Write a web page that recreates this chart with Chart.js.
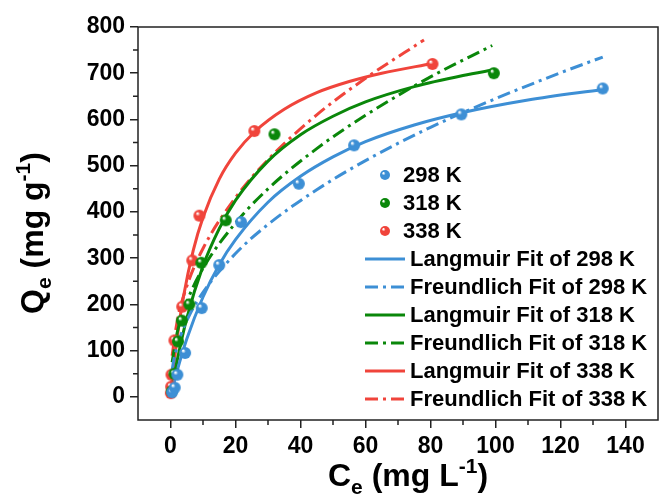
<!DOCTYPE html>
<html>
<head>
<meta charset="utf-8">
<script src="https://cdn.jsdelivr.net/npm/chart.js@4.4.0/dist/chart.umd.min.js"></script>
<style>
  body { margin: 0; background: #fff; }
  #wrap { width: 665px; height: 501px; }
</style>
</head>
<body>
<div id="wrap"><canvas id="iso"></canvas></div>
<script>
// measured points (Ce, Qe)
const c298 = [0.5, 1.3, 2.1, 4.5, 9.6, 15, 21.7, 39.5, 56.5, 89.5, 133];
const q298 = [10, 20, 48, 95, 192, 285, 378, 461, 544, 611, 667];
const c318 = [0.4, 1.2, 2.3, 3.5, 5.8, 9.5, 17, 32, 99.5];
const q318 = [12, 50, 120, 165, 200, 290, 382, 568, 700];
const c338 = [0.1, 0.2, 0.3, 1.2, 3.6, 6.7, 8.9, 25.8, 80.6];
const q338 = [8, 22, 48, 122, 195, 295, 392, 575, 720];

// fit curves
const langC298 = [0.5, 2, 5, 10, 15, 20, 30, 40, 50, 60, 75, 90, 110, 133];
const langQ298 = [14, 55, 125, 216, 286, 340, 421, 477, 519, 552, 588, 615, 642, 665];
const freuC298 = [0.5, 1, 3, 6, 10, 20, 30, 45, 60, 80, 100, 120, 133];
const freuQ298 = [58, 79, 130, 179, 226, 310, 373, 448, 511, 583, 645, 701, 735];
const langC318 = [0.5, 2, 5, 10, 15, 20, 30, 40, 50, 60, 75, 90, 100];
const langQ318 = [21, 77, 170, 283, 364, 425, 510, 567, 607, 638, 671, 695, 708];
const freuC318 = [0.5, 2, 5, 10, 20, 30, 45, 60, 80, 99];
const freuQ318 = [75, 137, 205, 278, 376, 450, 537, 609, 692, 760];
const langC338 = [0.1, 0.5, 2, 4, 7, 10, 15, 20, 26, 35, 45, 55, 65, 80.6];
const langQ338 = [7, 35, 125, 217, 317, 388, 471, 527, 574, 622, 658, 682, 700, 721];
const freuC338 = [0.5, 2, 5, 10, 20, 30, 45, 60, 78];
const freuQ338 = [89, 161, 239, 321, 431, 513, 610, 689, 772];

const xTicks = [0, 20, 40, 60, 80, 100, 120, 140];
const yTicks = [0, 100, 200, 300, 400, 500, 600, 700, 800];

const BLUE = "#3d8fd5";
const GREEN = "#0a870a";
const RED = "#f0443b";
const FONT = "'Liberation Sans', Arial, sans-serif";

function pts(xs, ys) {
  return xs.map((x, i) => ({ x: x, y: ys[i] }));
}

// shaded ball marker
function ball(color, r) {
  const c = document.createElement("canvas");
  c.width = c.height = r * 2 + 2;
  const g = c.getContext("2d");
  const m = r + 1;
  const grad = g.createRadialGradient(m - r * 0.35, m - r * 0.4, r * 0.1, m, m, r);
  grad.addColorStop(0, "#ffffff");
  grad.addColorStop(0.3, color);
  grad.addColorStop(1, color);
  g.fillStyle = grad;
  g.beginPath();
  g.arc(m, m, r, 0, Math.PI * 2);
  g.fill();
  return c;
}

const DASHDOT = [13, 5, 3, 5];

function scatterSet(label, xs, ys, color) {
  return {
    label: label, data: pts(xs, ys), showLine: false,
    pointStyle: ball(color, 6), pointRadius: 6, borderColor: color, backgroundColor: color,
    legendImg: ball(color, 5)
  };
}
function fitSet(label, xs, ys, color, dashed) {
  return {
    label: label, data: pts(xs, ys), showLine: true, pointRadius: 0,
    borderColor: color, borderWidth: 3, borderDash: dashed ? DASHDOT : [],
    cubicInterpolationMode: "monotone", fill: false
  };
}

const datasets = [
  scatterSet("298 K", c298, q298, BLUE),
  scatterSet("318 K", c318, q318, GREEN),
  scatterSet("338 K", c338, q338, RED),
  fitSet("Langmuir Fit of 298 K", langC298, langQ298, BLUE, false),
  fitSet("Freundlich Fit of 298 K", freuC298, freuQ298, BLUE, true),
  fitSet("Langmuir Fit of 318 K", langC318, langQ318, GREEN, false),
  fitSet("Freundlich Fit of 318 K", freuC318, freuQ318, GREEN, true),
  fitSet("Langmuir Fit of 338 K", langC338, langQ338, RED, false),
  fitSet("Freundlich Fit of 338 K", freuC338, freuQ338, RED, true)
];

// text with subscript / superscript pieces
function richText(ctx, parts, x, y, rotate) {
  ctx.save();
  ctx.translate(x, y);
  if (rotate) ctx.rotate(-Math.PI / 2);
  let total = 0;
  parts.forEach(p => { ctx.font = "bold " + p.size + "px " + FONT; total += ctx.measureText(p.t).width; });
  let cx = -total / 2;
  ctx.fillStyle = "#000";
  ctx.textBaseline = "alphabetic";
  parts.forEach(p => {
    ctx.font = "bold " + p.size + "px " + FONT;
    ctx.fillText(p.t, cx, p.dy || 0);
    cx += ctx.measureText(p.t).width;
  });
  ctx.restore();
}

const decor = {
  id: "decor",
  afterDraw(chart) {
    const ctx = chart.ctx;
    const a = chart.chartArea;
    const xs = chart.scales.x, ys = chart.scales.y;
    ctx.save();
    ctx.strokeStyle = "#222";
    ctx.lineWidth = 1.5;
    ctx.strokeRect(a.left, a.top, a.right - a.left, a.bottom - a.top);
    // minor ticks
    ctx.beginPath();
    for (let v = 10; v <= 150; v += 20) {
      const px = xs.getPixelForValue(v);
      if (px < a.right - 1) { ctx.moveTo(px, a.bottom); ctx.lineTo(px, a.bottom + 5); }
    }
    for (let v = -50; v <= 750; v += 100) {
      const py = ys.getPixelForValue(v);
      if (py < a.bottom - 1) { ctx.moveTo(a.left, py); ctx.lineTo(a.left - 5, py); }
    }
    ctx.stroke();

    // legend
    let y = 175;
    chart.data.datasets.forEach(ds => {
      ctx.font = "bold 22px " + FONT;
      ctx.fillStyle = "#000";
      ctx.textBaseline = "middle";
      if (ds.showLine) {
        ctx.strokeStyle = ds.borderColor;
        ctx.lineWidth = 3;
        ctx.setLineDash(ds.borderDash);
        ctx.beginPath();
        ctx.moveTo(365, y);
        ctx.lineTo(405, y);
        ctx.stroke();
        ctx.setLineDash([]);
        ctx.fillText(ds.label, 410, y + 1);
      } else {
        const img = ds.legendImg;
        ctx.drawImage(img, 385 - img.width / 2, y - img.height / 2);
        ctx.fillText(ds.label, 403, y + 1);
      }
      y += 28;
    });

    // axis titles
    richText(ctx, [
      { t: "C", size: 32 }, { t: "e", size: 21, dy: 8 }, { t: " (mg L", size: 32 },
      { t: "-1", size: 21, dy: -13 }, { t: ")", size: 32 }
    ], 408, 486, false);
    richText(ctx, [
      { t: "Q", size: 32 }, { t: "e", size: 21, dy: 8 }, { t: " (mg g", size: 32 },
      { t: "-1", size: 21, dy: -13 }, { t: ")", size: 32 }
    ], 43, 233, true);
    ctx.restore();
  }
};

const tickFont = { family: FONT, size: 23, weight: "bold" };

new Chart(document.getElementById("iso"), {
  type: "scatter",
  data: { datasets: datasets },
  options: {
    responsive: true,
    maintainAspectRatio: false,
    animation: false,
    layout: { padding: { top: 27, right: 2, left: 0, bottom: 0 } },
    plugins: { legend: { display: false }, tooltip: { enabled: false } },
    scales: {
      x: {
        type: "linear", min: -10, max: 150,
        afterBuildTicks: s => { s.ticks = xTicks.map(v => ({ value: v })); },
        afterFit: s => { s.height = 81; },
        border: { display: false },
        grid: { drawOnChartArea: false, tickLength: 8, color: "#222", lineWidth: 1.5 },
        ticks: { font: tickFont, color: "#000", padding: 5, maxRotation: 0 }
      },
      y: {
        type: "linear", min: -50, max: 800,
        afterBuildTicks: s => { s.ticks = yTicks.map(v => ({ value: v })); },
        afterFit: s => { s.width = 138; },
        border: { display: false },
        grid: { drawOnChartArea: false, tickLength: 8, color: "#222", lineWidth: 1.5 },
        ticks: { font: tickFont, color: "#000", padding: 5 }
      }
    }
  },
  plugins: [decor]
});
</script>
</body>
</html>
